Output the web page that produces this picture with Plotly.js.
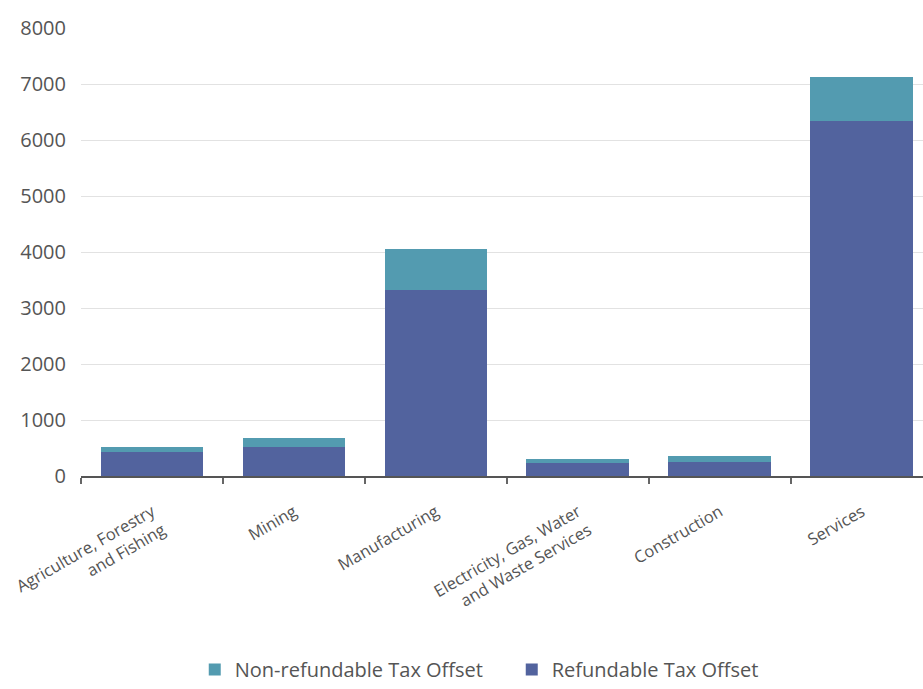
<!DOCTYPE html>
<html>
<head>
<meta charset="utf-8">
<script src="https://cdn.plot.ly/plotly-3.0.1.min.js"></script>
<style>html,body{margin:0;padding:0;background:#fff;overflow:hidden}#chart{width:923px;height:689px}</style>
</head>
<body>
<div id="chart"></div>
<script>
const categories = [
  "Agriculture, Forestry<br>and Fishing",
  "Mining",
  "Manufacturing",
  "Electricity, Gas, Water<br>and Waste Services",
  "Construction",
  "Services"
];
const refundable = [429, 518, 3321, 232, 250, 6339];
const nonRefundable = [89, 161, 733, 72, 107, 786];
const yTicks = [0, 1000, 2000, 3000, 4000, 5000, 6000, 7000, 8000];

const traces = [
  {type: "bar", name: "Refundable Tax Offset", x: categories, y: refundable,
   marker: {color: "#52639e"}, hoverinfo: "y+name"},
  {type: "bar", name: "Non-refundable Tax Offset", x: categories, y: nonRefundable,
   marker: {color: "#539bb0"}, hoverinfo: "y+name"}
];

const layout = {
  width: 923, height: 689,
  margin: {l: 81, r: 0, t: 28, b: 213, autoexpand: false},
  paper_bgcolor: "#fff", plot_bgcolor: "#fff",
  barmode: "stack",
  bargap: 0.275,
  font: {family: "Open Sans, sans-serif", color: "#555"},
  xaxis: {
    type: "category",
    range: [-0.5, 5.43],
    tickson: "boundaries",
    ticks: "outside", ticklen: 6, tickwidth: 2, tickcolor: "#666",
    showline: true, linecolor: "#555", linewidth: 2,
    showgrid: false,
    tickangle: -30,
    ticklabelstandoff: 18,
    tickfont: {size: 16.5, color: "#555"},
    automargin: false
  },
  yaxis: {
    range: [0, 8000],
    tickvals: yTicks,
    ticktext: yTicks.map(String),
    showgrid: true, gridcolor: "#e2e2e2", gridwidth: 1,
    zeroline: false,
    showline: false,
    ticks: "",
    ticklabelstandoff: 14,
    tickfont: {size: 20, color: "#555"},
    automargin: false
  },
  showlegend: true,
  legend: {
    orientation: "h", traceorder: "reversed",
    xref: "container", yref: "container",
    x: 0.211, xanchor: "left", y: 0, yanchor: "bottom",
    font: {size: 20, color: "#555"},
    entrywidth: 272, entrywidthmode: "pixels",
    itemwidth: 30
  }
};

Plotly.newPlot("chart", traces, layout, {displayModeBar: false, staticPlot: true});
</script>
</body>
</html>
